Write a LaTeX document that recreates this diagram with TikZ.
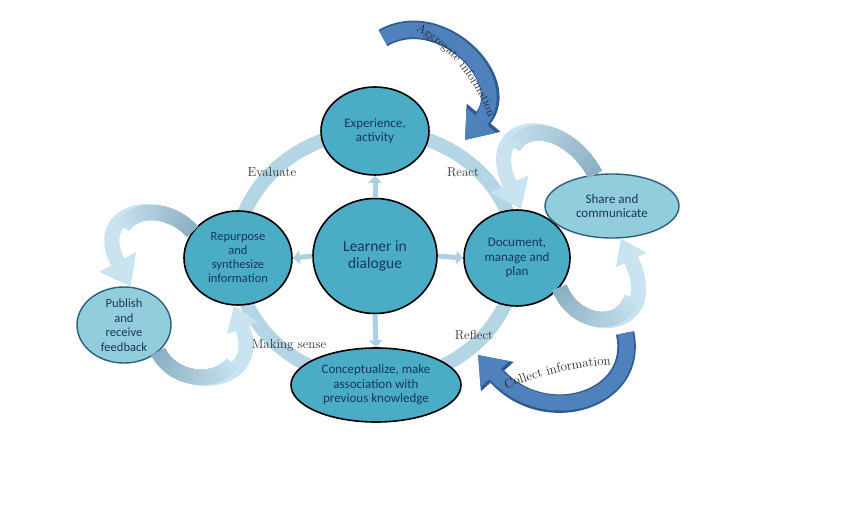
\documentclass[tikz,border=0pt]{standalone}
\usepackage{fontspec}
\newfontfamily\calib{Carlito}
\usetikzlibrary{arrows.meta,shapes.geometric,decorations.text}
\definecolor{teal1}{HTML}{4BACC6}
\definecolor{light1}{HTML}{92CDDC}
\definecolor{navy1}{HTML}{17375E}
\definecolor{ring1}{HTML}{B3D5E4}
\definecolor{loop1}{HTML}{ADCFE2}
\definecolor{loophead}{HTML}{C9E3F1}
\definecolor{looptail}{HTML}{8AAEC2}
\definecolor{dblue}{HTML}{4F81BD}
\definecolor{dblueedge}{HTML}{2F5B91}
\definecolor{bord2}{HTML}{2B5F82}
\begin{document}
\begin{tikzpicture}[x=1pt,y=-1pt,
  main/.style={ellipse,draw=black,line width=1.6pt,fill=teal1,inner sep=0pt,align=center,
    font=\calib\fontsize{13}{14.5}\selectfont,text=navy1},
  lite/.style={ellipse,draw=bord2,line width=1.4pt,fill=light1,inner sep=0pt,align=center,
    font=\calib\fontsize{13}{14.5}\selectfont,text=navy1},
  sarrow/.style={line width=5pt,draw=loop1,-{Triangle[length=7pt,width=13pt]}},
  loopar/.style={line width=15pt,draw=loophead,-{Triangle[length=28pt,width=40pt]}},
  loopsm/.style={line width=15pt,draw=loophead,-{Triangle[length=24pt,width=32pt]}},
  shadeover/.style={line width=15pt,draw=looptail!#1!loophead},
  bigunder/.style={line width=18.5pt,draw=dblueedge,-{Triangle[length=29pt,width=42pt]}},
  bigar/.style={line width=15pt,draw=dblue,-{Triangle[length=25.5pt,width=37pt]}},
  lab/.style={font=\fontsize{13}{15}\selectfont,text=black!80}
]
\useasboundingbox (0,0) rectangle (850,513);
% ring
\draw[ring1,line width=14pt] (376,256) ellipse [x radius=140, y radius=125];

% nodes
\node[main,minimum width=108pt,minimum height=88pt] (exp) at (375,131) {Experience,\\activity};
\node[main,minimum width=124pt,minimum height=115pt,font=\calib\fontsize{15.5}{17.5}\selectfont] (learn) at (375,256) {Learner in\\dialogue};
\node[main,minimum width=106pt,minimum height=96pt] (doc) at (517,258) {Document,\\manage and\\plan};
\node[main,minimum width=108pt,minimum height=94pt,font=\calib\fontsize{12.5}{14}\selectfont] (rep) at (238,258) {Repurpose\\and\\synthesize\\information};
\node[main,minimum width=170pt,minimum height=74pt] (con) at (376,385) {Conceptualize, make\\association with\\previous knowledge};
\node[lite,minimum width=134pt,minimum height=64pt] (share) at (612,206) {Share and\\communicate};
\node[lite,minimum width=94pt,minimum height=76pt,font=\calib\fontsize{12.5}{14.5}\selectfont] (pub) at (124,325) {Publish\\and\\receive\\feedback};

% small arrows
\draw[sarrow] (learn.north) -- (exp.south);
\draw[sarrow] (learn.east) -- (doc.west);
\draw[sarrow] (learn.west) -- (rep.east);
\draw[sarrow] (learn.south) -- (con.north);

% loops (light head, darker tail)
\draw[loopar] (share.118) .. controls (560,110) and (480,120) .. (doc.85);
\foreach \i [evaluate=\i as \L using (17-\i)*6.5, evaluate=\i as \c using int(\i*6)] in {1,...,16}{
  \draw[shadeover=\c,dash pattern=on \L pt off 2000pt] (share.118) .. controls (560,110) and (480,120) .. (doc.85);}
\draw[loopsm] (doc.-35) .. controls (580,340) and (665,330) .. (share.-75);
\foreach \i [evaluate=\i as \L using (17-\i)*6, evaluate=\i as \c using int(\i*6)] in {1,...,16}{
  \draw[shadeover=\c,dash pattern=on \L pt off 2000pt] (doc.-35) .. controls (580,340) and (665,330) .. (share.-75);}
\draw[loopar] (rep.150) .. controls (160,195) and (90,210) .. (pub.80);
\foreach \i [evaluate=\i as \L using (17-\i)*5, evaluate=\i as \c using int(\i*6)] in {1,...,16}{
  \draw[shadeover=\c,dash pattern=on \L pt off 2000pt] (rep.150) .. controls (160,195) and (90,210) .. (pub.80);}
\draw[loopsm] (pub.-38) .. controls (180,395) and (265,385) .. (rep.-95);
\foreach \i [evaluate=\i as \L using (17-\i)*5.5, evaluate=\i as \c using int(\i*6)] in {1,...,16}{
  \draw[shadeover=\c,dash pattern=on \L pt off 2000pt] (pub.-38) .. controls (180,395) and (265,385) .. (rep.-95);}

% big dark arrows
\coordinate (a1) at (383,38);
\coordinate (a2) at (465,140);
\draw[bigunder] (a1) .. controls (440,5) and (515,80) .. (a2);
\draw[bigar] (a1) .. controls (440,5) and (515,80) .. (a2);
\coordinate (c1) at (625,333);
\coordinate (c2) at (478,355);
\draw[bigunder] (c1) .. controls (640,400) and (545,430) .. (c2);
\draw[bigar] (c1) .. controls (640,400) and (545,430) .. (c2);

% texts along arrows
\path[decorate,decoration={text along path,text align=center,
  text={|\fontsize{12}{14}\selectfont\color{black!85}|Aggregate information}}]
  (402,24) .. controls (445,40) and (480,82) .. (493,132);
\path[decorate,decoration={text along path,text align=center,
  text={|\fontsize{13}{15}\selectfont\color{black!85}|Collect information}}]
  (500,392) .. controls (535,376) and (580,366) .. (618,364);

% ring labels
\node[lab] (ev) at (272,172) {Evaluate};
\node[lab] (re) at (463,172) {React};
\node[lab] (rf) at (474,335) {Reflect};
\node[lab] (ms) at (289,345) {Making sense};
\end{tikzpicture}
\end{document}
